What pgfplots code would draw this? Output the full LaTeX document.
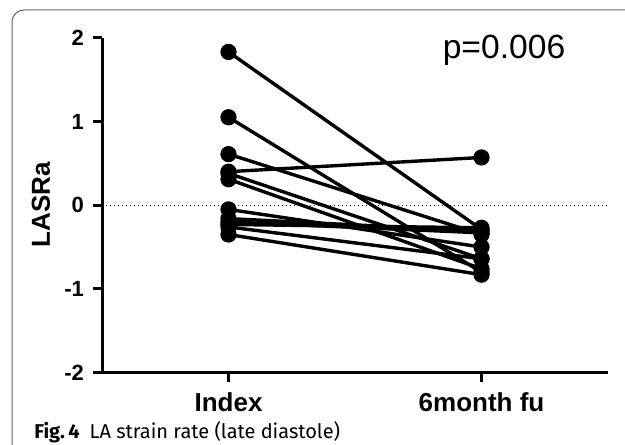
\documentclass[border=0pt]{standalone}
\usepackage{fontspec}
\setmainfont{Liberation Sans}
\newfontfamily\capfont{Fira Sans}
\usepackage{pgfplots}
\pgfplotsset{compat=1.18}
\pgfplotsset{pair/.style={black, solid, line width=1.7pt, mark=*, mark size=3.2pt, mark options={solid, fill=black}}}
\begin{document}
\begin{tikzpicture}
\useasboundingbox (0,0) rectangle (312.5pt,222pt);
% rounded figure frame, cut by the page edge
\begin{scope}
\clip (0,0) rectangle (312.5pt,222pt);
\draw[black!60, line width=0.5pt, rounded corners=6pt] (6pt,217pt) rectangle (340pt,-20pt);
\end{scope}
\begin{axis}[
    at={(51pt,35.65pt)}, anchor=south west,
    scale only axis,
    width=253pt, height=167.5pt,
    xmin=-0.5, xmax=1.5,
    ymin=-2, ymax=2,
    axis x line=bottom, axis y line=left,
    axis line style={-, line width=1.5pt},
    xtick={0,1}, xticklabels={Index,6month fu},
    ytick={-2,-1,0,1,2},
    tick align=outside, major tick length=4.5pt,
    tick style={black, line width=1.5pt},
    /pgf/number format/assume math mode=true,
    yticklabel style={font=\fontsize{11}{13}\selectfont\bfseries, xshift=-1pt},
    xticklabel style={font=\fontsize{13}{15}\selectfont\bfseries, yshift=-2pt},
    clip=false,
]
\addplot[black, line width=0.5pt, dash pattern=on 0.6pt off 1.4pt, mark=none, forget plot] coordinates {(-0.5,0) (1.5,0)};
\addplot[pair] coordinates {(0,1.83) (1,-0.29)};
\addplot[pair] coordinates {(0,1.05) (1,-0.80)};
\addplot[pair] coordinates {(0,0.61) (1,-0.35)};
\addplot[pair] coordinates {(0,0.40) (1,0.57)};
\addplot[pair] coordinates {(0,0.38) (1,-0.64)};
\addplot[pair] coordinates {(0,0.31) (1,-0.76)};
\addplot[pair] coordinates {(0,-0.05) (1,-0.50)};
\addplot[pair] coordinates {(0,-0.16) (1,-0.31)};
\addplot[pair] coordinates {(0,-0.20) (1,-0.33)};
\addplot[pair] coordinates {(0,-0.23) (1,-0.27)};
\addplot[pair] coordinates {(0,-0.26) (1,-0.64)};
\addplot[pair] coordinates {(0,-0.35) (1,-0.83)};
\end{axis}
\node[rotate=90, font=\fontsize{13}{15}\selectfont\bfseries] at (20.5pt,119.5pt) {LASRa};
\node[font=\fontsize{16.8}{20}\selectfont] at (252pt,197pt) {p=0.006};
\node[anchor=base west, font=\capfont\fontsize{10}{12}\selectfont, inner sep=0pt] at (17pt,3pt) {\textbf{Fig.\,4}\enspace LA strain rate (late diastole)};
\end{tikzpicture}
\end{document}
